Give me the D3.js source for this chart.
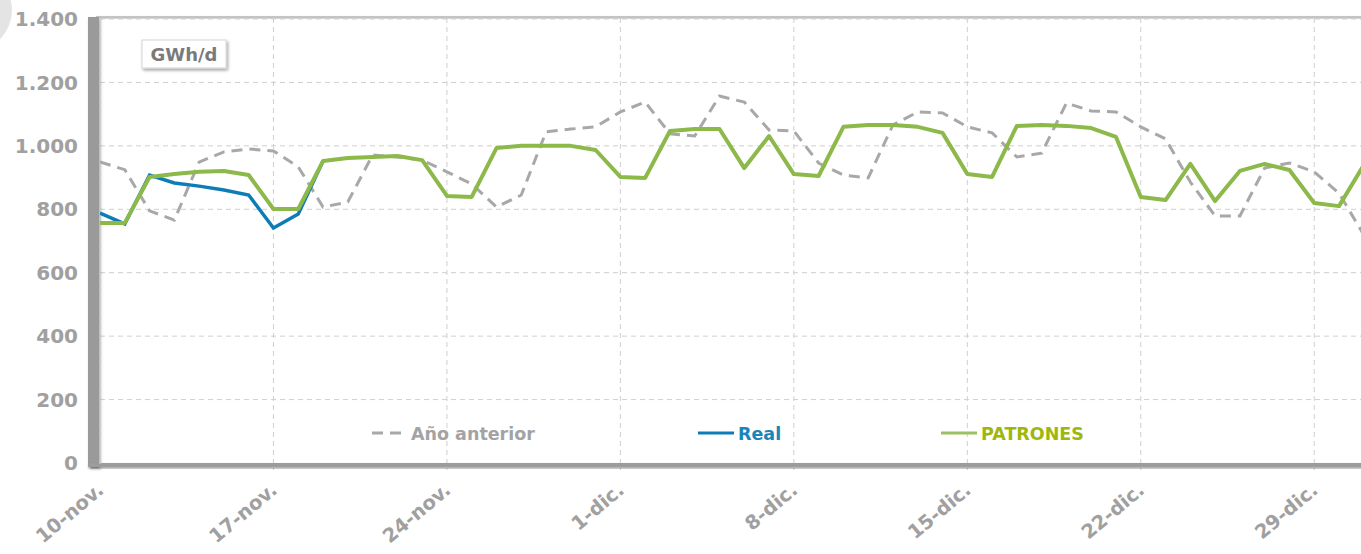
<!DOCTYPE html>
<html>
<head>
<meta charset="utf-8">
<script src="https://cdn.jsdelivr.net/npm/d3@7"></script>
<style>
  html, body { margin: 0; padding: 0; background: #fff; overflow: hidden; }
  svg { display: block; }
</style>
</head>
<body>
<div id="chart"></div>
<script>
const width = 1361;
const height = 554;

// one value per day, starting 10-nov.
const patrones = [757, 757, 902, 911, 918, 921, 908, 801, 801, 952, 962, 965, 968, 955, 842, 839,
                  993, 1000, 1000, 1000, 987, 902, 899, 1047, 1053, 1053, 930, 1031, 911, 905,
                  1060, 1066, 1066, 1060, 1041, 911, 902, 1063, 1066, 1063, 1056, 1028, 839, 829,
                  943, 826, 921, 943, 924, 820, 810, 940];
const real = [788, 754, 908, 883, 873, 861, 845, 741, 785, 952];
const anterior = [949, 925, 795, 766, 949, 981, 990, 984, 934, 807, 823, 971, 965, 955, 918, 880,
                  807, 845, 1044, 1053, 1060, 1107, 1138, 1038, 1031, 1157, 1138, 1050, 1047, 946,
                  908, 899, 1066, 1107, 1104, 1060, 1041, 965, 977, 1135, 1110, 1107, 1060, 1022,
                  886, 779, 779, 930, 946, 918, 851, 719];

const tickDays   = [0, 7, 14, 21, 28, 35, 42, 49];
const tickLabels = ["10-nov.", "17-nov.", "24-nov.", "1-dic.", "8-dic.", "15-dic.", "22-dic.", "29-dic."];
const yTicks = [0, 200, 400, 600, 800, 1000, 1200, 1400];

const legendNames = ["Año anterior", "Real", "PATRONES"];

const grayText = "#a0a0a0";
const greenLine = "#8db84a";
const blueLine = "#0f7db5";
const grayLine = "#a8a8a8";

const x = d3.scaleLinear().domain([0, 51]).range([100, 100 + 24.78 * 51]);
const y = d3.scaleLinear().domain([0, 1400]).range([463, 19]);

const svg = d3.select("#chart").append("svg")
    .attr("width", width)
    .attr("height", height);

const defs = svg.append("defs");
defs.append("filter").attr("id", "shadow")
    .attr("x", "-50%").attr("y", "-50%").attr("width", "200%").attr("height", "200%")
  .append("feDropShadow")
    .attr("dx", 1.5).attr("dy", 2).attr("stdDeviation", 1.6)
    .attr("flood-color", "#000").attr("flood-opacity", 0.35);
defs.append("clipPath").attr("id", "plot")
  .append("rect").attr("x", 100).attr("y", 10).attr("width", width).attr("height", 460);

// decorative corner circle
svg.append("circle").attr("cx", -30).attr("cy", 10).attr("r", 42).attr("fill", "#e4e4e4");

// frame: top line
svg.append("rect")
    .attr("x", 96).attr("y", 16).attr("width", width).attr("height", 2)
    .attr("fill", "#c4c4c4")
    .attr("filter", "url(#shadow)");

// gridlines
const grid = svg.append("g");
grid.selectAll("line.h")
    .data(yTicks.filter(d => d > 0))
    .enter().append("line")
    .attr("x1", 100).attr("x2", width)
    .attr("y1", d => y(d)).attr("y2", d => y(d))
    .attr("stroke", "#cfcfcf").attr("stroke-width", 1)
    .attr("stroke-dasharray", "5,4");
grid.selectAll("line.v")
    .data(tickDays)
    .enter().append("line")
    .attr("x1", d => x(d)).attr("x2", d => x(d))
    .attr("y1", 18).attr("y2", 470)
    .attr("stroke", "#cfcfcf").attr("stroke-width", 1)
    .attr("stroke-dasharray", "5,4");

// axes bars
svg.append("rect")
    .attr("x", 88).attr("y", 17).attr("width", 11).attr("height", 450)
    .attr("fill", "#9a9a9a")
    .attr("filter", "url(#shadow)");
svg.append("rect")
    .attr("x", 88).attr("y", 463).attr("width", width).attr("height", 4)
    .attr("fill", "#9c9c9c")
    .attr("filter", "url(#shadow)");
// keep the first vertical gridline visible over the bar edge
svg.append("line")
    .attr("x1", x(0)).attr("x2", x(0)).attr("y1", 18).attr("y2", 470)
    .attr("stroke", "#d8d8d8").attr("stroke-dasharray", "5,4");

// y labels
svg.append("g").selectAll("text")
    .data(yTicks)
    .enter().append("text")
    .attr("x", 78)
    .attr("y", d => y(d))
    .attr("dy", "0.36em")
    .attr("text-anchor", "end")
    .attr("font-family", "DejaVu Sans, Verdana, sans-serif")
    .attr("font-weight", "bold")
    .attr("font-size", 20)
    .attr("fill", grayText)
    .text(d => d3.format(",")(d).replace(/,/g, "."));

// x labels
svg.append("g").selectAll("text")
    .data(tickDays)
    .enter().append("text")
    .attr("transform", (d, i) => "translate(" + (x(d) + 5) + ",492) rotate(-40)")
    .attr("text-anchor", "end")
    .attr("font-family", "DejaVu Sans, Verdana, sans-serif")
    .attr("font-weight", "bold")
    .attr("font-size", 19.5)
    .attr("fill", grayText)
    .text((d, i) => tickLabels[i]);

// unit box
svg.append("rect")
    .attr("x", 142).attr("y", 40).attr("width", 84).attr("height", 28)
    .attr("fill", "#fff").attr("stroke", "#d6d6d6")
    .attr("filter", "url(#shadow)");
svg.append("text")
    .attr("x", 184).attr("y", 61)
    .attr("text-anchor", "middle")
    .attr("font-family", "DejaVu Sans, Verdana, sans-serif")
    .attr("font-weight", "bold")
    .attr("font-size", 18)
    .attr("fill", "#7a7a7a")
    .text("GWh/d");

// series
const line = d3.line()
    .x((d, i) => x(i))
    .y(d => y(d));

const series = svg.append("g").attr("clip-path", "url(#plot)");
series.append("path")
    .attr("d", line(anterior))
    .attr("fill", "none")
    .attr("stroke", grayLine)
    .attr("stroke-width", 3)
    .attr("stroke-dasharray", "11,7");
series.append("path")
    .attr("d", line(real))
    .attr("fill", "none")
    .attr("stroke", blueLine)
    .attr("stroke-width", 3.5);
series.append("path")
    .attr("d", line(patrones))
    .attr("fill", "none")
    .attr("stroke", greenLine)
    .attr("stroke-width", 4)
    .attr("stroke-linejoin", "round");

// legend
const legend = svg.append("g")
    .attr("font-family", "DejaVu Sans, Verdana, sans-serif")
    .attr("font-weight", "bold")
    .attr("font-size", 17.5);

legend.append("line")
    .attr("x1", 372).attr("x2", 406).attr("y1", 433).attr("y2", 433)
    .attr("stroke", grayLine).attr("stroke-width", 3).attr("stroke-dasharray", "11,7");
legend.append("text").attr("x", 411).attr("y", 440)
    .attr("fill", "#a3a3a3").text(legendNames[0]);

legend.append("line")
    .attr("x1", 698).attr("x2", 734).attr("y1", 433).attr("y2", 433)
    .attr("stroke", blueLine).attr("stroke-width", 3);
legend.append("text").attr("x", 738).attr("y", 440)
    .attr("fill", "#1a84bb").text(legendNames[1]);

legend.append("line")
    .attr("x1", 941).attr("x2", 977).attr("y1", 433).attr("y2", 433)
    .attr("stroke", "#9dc062").attr("stroke-width", 3);
legend.append("text").attr("x", 981).attr("y", 440)
    .attr("fill", "#9cb80c").text(legendNames[2]);
</script>
</body>
</html>
